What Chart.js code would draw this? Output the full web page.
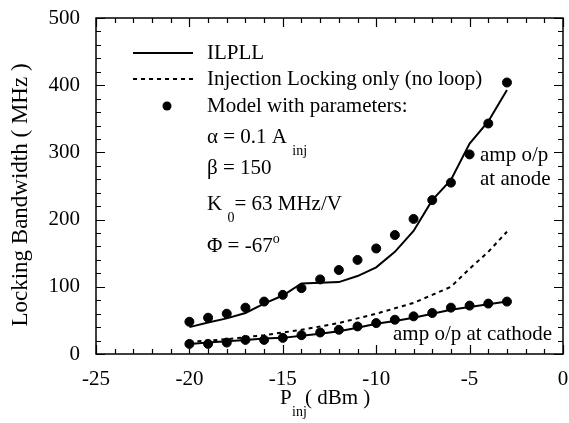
<html>
  <head>
    <meta http-equiv="Content-Type" content="text/html; charset=UTF-8" />
    <script src="https://cdn.jsdelivr.net/npm/chart.js@4.4.1/dist/chart.umd.min.js"></script>
    <style>
      body { margin: 0; background: #fff; }
    </style>
  </head>
  <body>
    <canvas id="lock-chart" width="569" height="423"></canvas>

    <script type="text/javascript">
      // Injection power (dBm)
      const pinj = [-20, -19, -18, -17, -16, -15, -14, -13, -12, -11, -10, -9, -8, -7, -6, -5, -4, -3]

      // ILPLL, amp o/p at anode / cathode (MHz)
      const ilpllAnode = [40, 47, 53, 61, 75, 87, 105, 106, 107, 116, 129, 152, 183, 229, 259, 313, 346, 393]
      const ilpllCathode = [15, 17, 19, 21, 23, 24, 27, 30, 34, 39, 45, 49, 54, 60, 66, 70, 74, 78]

      // Injection locking only (no loop)
      const injOnly = [18, 20, 22, 25, 28, 32, 36, 41, 46, 53, 60, 68, 76, 88, 100, 127, 152, 182]

      // Model points
      const modelAnode = [48, 54, 60, 69, 78, 88, 98, 111, 125, 140, 157, 177, 201, 229, 255, 297, 343, 404]
      const modelCathode = [15, 15, 17, 21, 21, 24, 28, 32, 36, 41, 46, 51, 56, 61, 69, 72, 75, 78]

      // Axis ticks
      const xTicks = [-25, -20, -15, -10, -5, 0]
      const yTicks = [0, 100, 200, 300, 400, 500]

      const serif = '"Liberation Serif", "Times New Roman", serif'
      const fontSize = 21
      const subSize = 14

      function pts(values) {
        return pinj.map((x, i) => ({x: x, y: values[i]}))
      }

      // write text with optional subscripts: parts = [[text, 'n'|'sub'|'sup'], ...]
      function richText(ctx, parts, x, y) {
        let cx = x
        parts.forEach(p => {
          let txt = p[0], kind = p[1] || 'n'
          if (kind === 'n') {
            ctx.font = fontSize + 'px ' + serif
            ctx.fillText(txt, cx, y)
          } else if (kind === 'sub') {
            ctx.font = subSize + 'px ' + serif
            ctx.fillText(txt, cx, y + 14)
          } else {
            ctx.font = subSize + 'px ' + serif
            ctx.fillText(txt, cx, y - 7)
          }
          cx += ctx.measureText(txt).width
        })
        return cx
      }

      const framePlugin = {
        id: 'frame',
        afterDraw(chart) {
          const ctx = chart.ctx
          const area = chart.chartArea
          const xs = chart.scales.x
          const ys = chart.scales.y
          ctx.save()
          ctx.strokeStyle = '#000'
          ctx.fillStyle = '#000'

          // box
          ctx.lineWidth = 1.5
          ctx.strokeRect(area.left, area.top, area.right - area.left, area.bottom - area.top)

          // inner ticks
          ctx.lineWidth = 1.2
          ctx.beginPath()
          for (let v = xs.min; v <= xs.max; v += 1) {
            const px = Math.round(xs.getPixelForValue(v)) + 0.5
            const len = v % 5 === 0 ? 9 : 5
            ctx.moveTo(px, area.bottom); ctx.lineTo(px, area.bottom - len)
            ctx.moveTo(px, area.top); ctx.lineTo(px, area.top + len)
          }
          for (let v = ys.min; v <= ys.max; v += 20) {
            const py = Math.round(ys.getPixelForValue(v)) + 0.5
            const len = v % 100 === 0 ? 9 : 5
            ctx.moveTo(area.left, py); ctx.lineTo(area.left + len, py)
            ctx.moveTo(area.right, py); ctx.lineTo(area.right - len, py)
          }
          ctx.stroke()

          // legend
          ctx.lineWidth = 2
          ctx.beginPath()
          ctx.moveTo(133, 53); ctx.lineTo(193, 53)
          ctx.stroke()
          ctx.setLineDash([4, 4])
          ctx.beginPath()
          ctx.moveTo(133, 79); ctx.lineTo(193, 79)
          ctx.stroke()
          ctx.setLineDash([])
          ctx.beginPath()
          ctx.arc(167, 106, 4.5, 0, Math.PI * 2)
          ctx.fill()

          ctx.textBaseline = 'middle'
          ctx.textAlign = 'left'
          richText(ctx, [['ILPLL']], 207, 53)
          richText(ctx, [['Injection Locking only (no loop)']], 207, 79)
          richText(ctx, [['Model with parameters:']], 207, 106)
          richText(ctx, [['\u03b1 = 0.1 A '], ['inj', 'sub']], 207, 137)
          richText(ctx, [['\u03b2 = 150']], 207, 168)
          richText(ctx, [['K '], ['0', 'sub'], ['= 63 MHz/V']], 207, 204)
          richText(ctx, [['\u03a6 = -67'], ['o', 'sup']], 207, 246)

          // curve labels
          richText(ctx, [['amp o/p']], 480, 155)
          richText(ctx, [['at anode']], 480, 179)
          richText(ctx, [['amp o/p at cathode']], 393, 334)

          // axis titles
          ctx.font = fontSize + 'px ' + serif
          ctx.fillText('P', 280, 398)
          ctx.font = subSize + 'px ' + serif
          ctx.fillText('inj', 292, 412)
          ctx.font = fontSize + 'px ' + serif
          ctx.fillText('( dBm )', 305, 398)

          ctx.translate(21, 195)
          ctx.rotate(-Math.PI / 2)
          ctx.textAlign = 'center'
          ctx.font = '23px ' + serif
          ctx.fillText('Locking Bandwidth ( MHz )', 0, 0)
          ctx.restore()
        }
      }

      const lineStyle = {borderColor: '#000', borderWidth: 2, pointRadius: 0, showLine: true, fill: false, tension: 0}
      const dotStyle = {backgroundColor: '#000', borderColor: '#000', pointRadius: 4.5, showLine: false}

      const chartData = {
        datasets: [
          Object.assign({label: 'ILPLL', data: pts(ilpllAnode)}, lineStyle),
          Object.assign({label: 'ILPLL cathode', data: pts(ilpllCathode)}, lineStyle),
          Object.assign({label: 'Injection Locking only (no loop)', data: pts(injOnly), borderDash: [4, 4]}, lineStyle),
          Object.assign({label: 'Model anode', data: pts(modelAnode)}, dotStyle),
          Object.assign({label: 'Model cathode', data: pts(modelCathode)}, dotStyle)
        ]
      }

      const ctx = document.getElementById('lock-chart').getContext('2d')
      new Chart(ctx, {
        type: 'scatter',
        data: chartData,
        plugins: [framePlugin],
        options: {
          responsive: false,
          animation: false,
          layout: {padding: {top: 18, right: 6, left: 0, bottom: 0}},
          plugins: {legend: {display: false}, tooltip: {enabled: false}},
          scales: {
            x: {
              type: 'linear', min: -25, max: 0,
              afterFit: s => { s.height = 69; s.paddingLeft = 0; s.paddingRight = 0 },
              afterBuildTicks: s => { s.ticks = xTicks.map(v => ({value: v})) },
              grid: {display: false}, border: {display: false},
              ticks: {color: '#000', padding: 5, maxRotation: 0, font: {family: serif, size: fontSize}}
            },
            y: {
              type: 'linear', min: 0, max: 500,
              afterFit: s => { s.width = 96; s.paddingTop = 0; s.paddingBottom = 0 },
              afterBuildTicks: s => { s.ticks = yTicks.map(v => ({value: v})) },
              grid: {display: false}, border: {display: false},
              ticks: {color: '#000', padding: 8, font: {family: serif, size: fontSize}}
            }
          }
        }
      })
    </script>
  </body>
</html>
